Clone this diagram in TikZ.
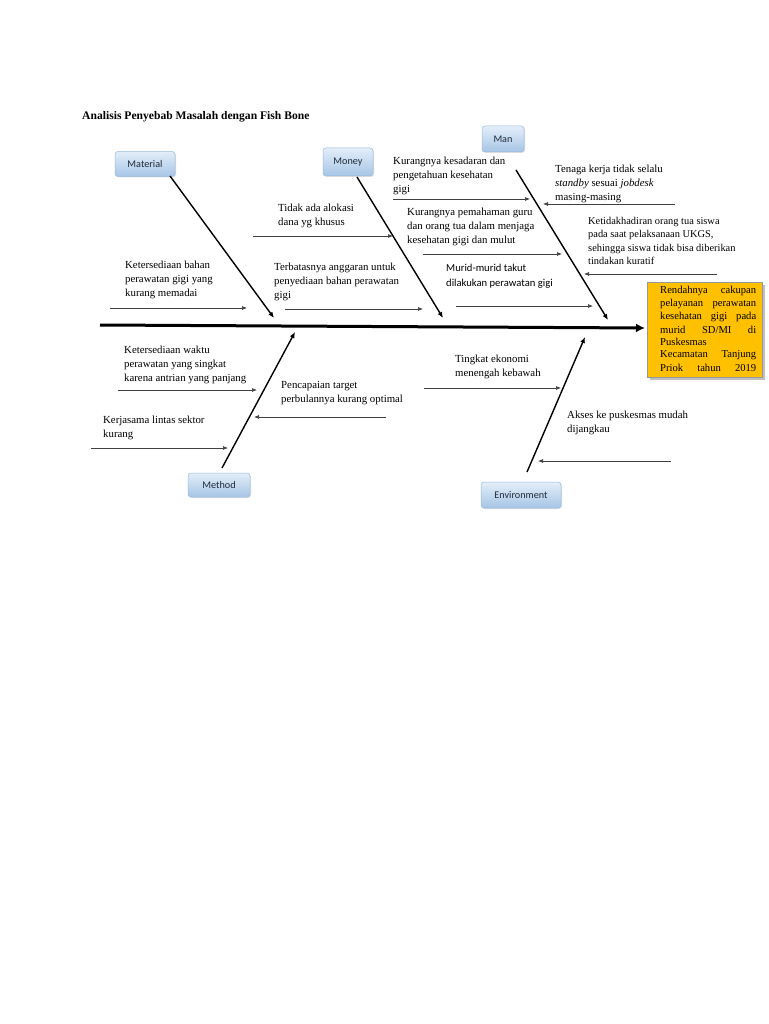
\documentclass[tikz,border=0pt]{standalone}
\usepackage{fontspec}
\setmainfont{Liberation Serif}
\newfontfamily\lblfont{Carlito}
\usetikzlibrary{arrows.meta,shadows}
\definecolor{gold}{HTML}{FFC000}
\definecolor{btop}{HTML}{E3EEF9}
\definecolor{bbot}{HTML}{A6C5E6}
\definecolor{bdraw}{HTML}{9BBBDC}
\definecolor{lbltext}{HTML}{1F2A38}
\begin{document}
\begin{tikzpicture}[x=1pt,y=-1pt,
  cat/.style={rounded corners=3pt,draw=bdraw,line width=0.5pt,top color=btop,bottom color=bbot,
    font=\lblfont\fontsize{10.2}{11}\selectfont,text=lbltext,inner sep=0pt,minimum height=25pt,
    drop shadow={shadow xshift=1pt,shadow yshift=-1pt,opacity=0.25}},
  txt/.style={anchor=north west,align=left,inner sep=0pt,font=\fontsize{10.8}{14}\selectfont},
  stxt/.style={anchor=north west,align=left,inner sep=0pt,font=\lblfont\fontsize{10.6}{15}\selectfont},
  bone/.style={line width=1.4pt,-{Latex[length=6pt,width=5pt]}},
  sub/.style={line width=0.7pt,draw=black!75,-{Latex[length=5pt,width=4pt]}},
  spine/.style={line width=3pt,-{Latex[length=9pt,width=9pt]}}
]
\useasboundingbox (0,0) rectangle (768,1024);

% title
\node[anchor=west,inner sep=0pt,font=\bfseries\fontsize{11.6}{13}\selectfont] (title) at (82,117) {Analisis Penyebab Masalah dengan Fish Bone};

% effect box
\fill[black!25] (650,285) rectangle (765,380);
\draw[draw=black!40,fill=gold,line width=0.5pt] (647,282) rectangle (762,377);
\node[inner sep=0pt,minimum width=115pt,minimum height=95pt,anchor=north west] (effect) at (647,282) {};
\begin{scope}
\clip (648,283) rectangle (761,376);
\foreach \t [count=\i] in {{Rendahnya\hfill cakupan},{pelayanan\hfill perawatan},{kesehatan\hfill gigi\hfill pada},{murid\hfill SD/MI\hfill di},{Puskesmas\hfill\null},{Kecamatan\hfill Tanjung},{Priok\hfill tahun\hfill 2019}}
  \node[anchor=west,inner sep=0pt,font=\fontsize{10.6}{12}\selectfont] at (660,{291+12.8*(\i-1)}) {\hbox to 96pt{\t}};
\end{scope}

% spine
\coordinate (sp0) at (100,325);
\coordinate (sp1) at (645,328);
\draw[spine] (sp0) -- (sp1);

% categories
\node[cat,minimum width=60pt] (material) at (145,164) {Material};
\node[cat,minimum width=50pt,minimum height=28pt] (money) at (348,162) {Money};
\node[cat,minimum width=42pt,minimum height=26pt] (man) at (503,139) {Man};
\node[cat,minimum width=62pt,minimum height=24pt] (method) at (219,485) {Method};
\node[cat,minimum width=80pt,minimum height=26pt] (env) at (521,495) {Environment};

% bones
\coordinate (bmat0) at (170,176); \coordinate (bmat1) at (274,318);
\coordinate (bmon0) at (357,177); \coordinate (bmon1) at (443,318);
\coordinate (bman0) at (516,170); \coordinate (bman1) at (608,320);
\coordinate (bmet0) at (222,468); \coordinate (bmet1) at (295,332);
\coordinate (benv0) at (527,472); \coordinate (benv1) at (585,337);
\draw[bone] (bmat0) -- (bmat1);
\draw[bone] (bmon0) -- (bmon1);
\draw[bone] (bman0) -- (bman1);
\draw[bone] (bmet0) -- (bmet1);
\draw[bone] (benv0) -- (benv1);

% Material causes
\node[txt] (t1) at (125,261) {Ketersediaan bahan\\perawatan gigi yang\\kurang memadai};
\coordinate (a1s) at (110,308); \coordinate (a1e) at (247,308);
\draw[sub] (a1s) -- (a1e);

% Money causes
\node[txt] (t2) at (278,204) {Tidak ada alokasi\\dana yg khusus};
\coordinate (a2s) at (253,236); \coordinate (a2e) at (393,236);
\draw[sub] (a2s) -- (a2e);
\node[txt] (t3) at (274,263) {Terbatasnya anggaran untuk\\penyediaan bahan perawatan\\gigi};
\coordinate (a3s) at (285,309); \coordinate (a3e) at (423,309);
\draw[sub] (a3s) -- (a3e);

% Man causes
\node[txt] (t4) at (393,157) {Kurangnya kesadaran dan\\pengetahuan kesehatan\\gigi};
\coordinate (a4s) at (393,199); \coordinate (a4e) at (530,199);
\draw[sub] (a4s) -- (a4e);
\node[txt] (t5) at (555,165) {Tenaga kerja tidak selalu\\\textit{standby} sesuai \textit{jobdesk}\\masing-masing};
\coordinate (a5s) at (675,204); \coordinate (a5e) at (543,204);
\draw[sub] (a5s) -- (a5e);
\node[txt] (t6) at (407,208) {Kurangnya pemahaman guru\\dan orang tua dalam menjaga\\kesehatan gigi dan mulut};
\coordinate (a6s) at (423,254); \coordinate (a6e) at (562,254);
\draw[sub] (a6s) -- (a6e);
\node[txt,font=\fontsize{10.4}{13.4}\selectfont] (t7) at (588,217) {Ketidakhadiran orang tua siswa\\pada saat pelaksanaan UKGS,\\sehingga siswa tidak bisa diberikan\\tindakan kuratif};
\coordinate (a7s) at (717,274); \coordinate (a7e) at (584,274);
\draw[sub] (a7s) -- (a7e);
\node[stxt] (t8) at (446,264) {Murid-murid takut\\dilakukan perawatan gigi};
\coordinate (a8s) at (456,306); \coordinate (a8e) at (593,306);
\draw[sub] (a8s) -- (a8e);

% Method causes
\node[txt] (t9) at (124,346) {Ketersediaan waktu\\perawatan yang singkat\\karena antrian yang panjang};
\coordinate (a9s) at (118,390); \coordinate (a9e) at (257,390);
\draw[sub] (a9s) -- (a9e);
\node[txt] (t10) at (281,381) {Pencapaian target\\perbulannya kurang optimal};
\coordinate (a10s) at (386,417); \coordinate (a10e) at (254,417);
\draw[sub] (a10s) -- (a10e);
\node[txt] (t11) at (103,416) {Kerjasama lintas sektor\\kurang};
\coordinate (a11s) at (91,448); \coordinate (a11e) at (228,448);
\draw[sub] (a11s) -- (a11e);

% Environment causes
\node[txt] (t12) at (455,355) {Tingkat ekonomi\\menengah kebawah};
\coordinate (a12s) at (424,388); \coordinate (a12e) at (561,388);
\draw[sub] (a12s) -- (a12e);
\node[txt] (t13) at (567,411) {Akses ke puskesmas mudah\\dijangkau};
\coordinate (a13s) at (671,461); \coordinate (a13e) at (538,461);
\draw[sub] (a13s) -- (a13e);
\end{tikzpicture}
\end{document}
